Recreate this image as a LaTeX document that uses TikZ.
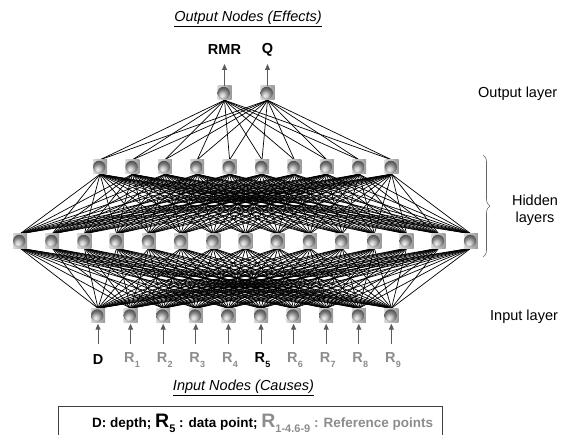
\documentclass[tikz,border=0pt]{standalone}
\usepackage{fontspec}
\setmainfont{Liberation Sans}
\usetikzlibrary{shadings,decorations.pathreplacing,arrows.meta}
\pgfdeclarelayer{bg}
\pgfsetlayers{bg,main}
\definecolor{lblgray}{HTML}{8C8C8C}
\definecolor{arrgray}{HTML}{5A5A5A}
\newcommand{\Rsb}[1]{R\kern0.3pt\raisebox{-0.3em}{\fontsize{9}{9}\selectfont #1}}
\begin{document}
\begin{tikzpicture}[x=1pt,y=-1pt,
  unit/.style={shape=rectangle, minimum size=14pt, inner sep=0pt,
    left color=gray!30, right color=gray!80,
    path picture={\shade[ball color=gray!60] ([xshift=-0.8pt]path picture bounding box.center) circle (6.2pt);}},
  conn/.style={black, line width=0.7pt},
  arr/.style={arrgray, line width=1pt, -{Triangle[length=6pt,width=5pt]}},
  txt/.style={font=\fontsize{14.5}{17}\selectfont, inner sep=0pt},
  lab/.style={font=\bfseries\fontsize{14.5}{17}\selectfont, inner sep=0pt}
]
\useasboundingbox (0,0) rectangle (569,435);

% output nodes
\node[unit] (o1) at (224.5,93) {};
\node[unit] (o2) at (267.5,93) {};
% hidden layer 1
\foreach \i in {1,...,10} \node[unit] (h\i) at ({100+(\i-1)*32.4},167) {};
% hidden layer 2
\foreach \i in {1,...,15} \node[unit] (g\i) at ({20+(\i-1)*32.21},241) {};
% input layer
\foreach \i in {1,...,10} \node[unit] (n\i) at ({98+(\i-1)*32.6},315.5) {};

\begin{pgfonlayer}{bg}
\foreach \o in {1,2} \foreach \h in {1,...,10} \draw[conn] (o\o.south) -- (h\h.north);
\foreach \h in {1,...,10} \foreach \g in {1,...,15} \draw[conn] (h\h.south) -- (g\g.north);
\foreach \g in {1,...,15} \foreach \n in {1,...,10} \draw[conn] (g\g.south) -- (n\n.north);
\end{pgfonlayer}

% output arrows and labels
\coordinate (oa1) at (224.5,64);
\coordinate (oa2) at (267.5,64);
\draw[arr] (o1.north) -- (oa1);
\draw[arr] (o2.north) -- (oa2);
\node[lab] (rmr) at (224.5,50) {RMR};
\node[lab] (q) at (267.5,50) {Q};
\node[txt, font=\itshape\fontsize{14.5}{17}\selectfont] (outt) at (248,19) {\underline{Output Nodes (Effects)}};

% input arrows and labels
\foreach \i in {1,...,10} {
  \coordinate (ia\i) at ({98+(\i-1)*32.6},344);
  \draw[arr, shorten >=1pt] (ia\i) -- (n\i.south);
}
\node[lab] (l1) at (98,360) {D};
\foreach \i/\k in {2/1,3/2,4/3,5/4,7/6,8/7,9/8,10/9}
  \node[lab, text=lblgray] (l\i) at ({98+(\i-1)*32.6+1.5},360) {\Rsb{\k}};
\node[lab] (l6) at ({98+5*32.6+1.5},360) {\Rsb{5}};
\node[txt, font=\itshape\fontsize{14.5}{17}\selectfont] (int) at (243.5,388) {\underline{Input Nodes (Causes)}};

% layer labels
\node[txt, anchor=west] (ol) at (478,94) {Output layer};
\node[txt, align=center] (hl) at (535,210) {Hidden\\layers};
\node[txt, anchor=west] (il) at (490,317) {Input layer};
\coordinate (b1) at (483,155);
\coordinate (b2) at (483,257);
\draw[gray!80!black, line width=0.6pt, decorate, decoration={brace, amplitude=7pt}] (b1) -- (b2);

% legend
\node[draw, line width=1pt, draw=black!75, minimum width=384pt, minimum height=34pt, anchor=north west, inner sep=0pt] (box) at (58,406) {};
\node[anchor=west, inner sep=0pt, font=\bfseries\fontsize{13.5}{16}\selectfont] (leg) at (92,423)
 {D: depth; {\fontsize{19.5}{20}\selectfont R\raisebox{-0.25em}{\fontsize{11}{11}\selectfont 5}} : data point; \textcolor{lblgray}{{\fontsize{19.5}{20}\selectfont R\raisebox{-0.25em}{\fontsize{11}{11}\selectfont 1-4.6-9}} : Reference points}};
\end{tikzpicture}
\end{document}
